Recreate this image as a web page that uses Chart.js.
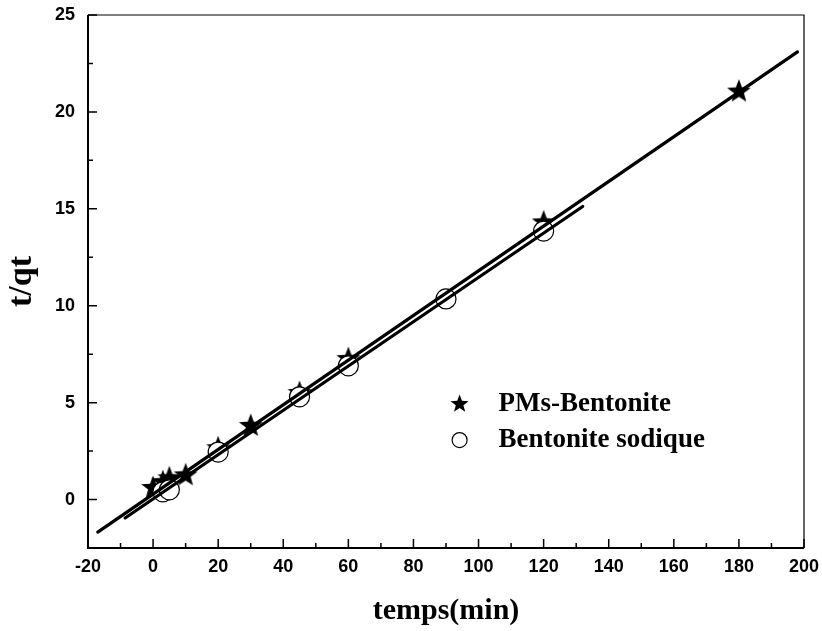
<!DOCTYPE html>
<html>
<head>
<meta charset="utf-8">
<script src="https://cdn.jsdelivr.net/npm/chart.js@4.4.1/dist/chart.umd.min.js"></script>
<style>
  html, body { margin: 0; padding: 0; background: #ffffff; }
  #wrap { width: 822px; height: 631px; }
</style>
</head>
<body>
<div id="wrap"><canvas id="chart" width="822" height="631"></canvas></div>
<script>
// valeurs
const pmsTemps = [0, 3, 5, 10, 20, 30, 45, 60, 120, 180];
const pmsTq    = [0.65, 0.95, 1.15, 1.3, 2.7, 3.85, 5.55, 7.3, 14.35, 21.1];
const sodTemps = [3, 5, 20, 45, 60, 90, 120];
const sodTq    = [0.4, 0.5, 2.45, 5.3, 6.9, 10.35, 13.85];
// droites de régression (extrémités lues)
const pmsFitX = [-17, 198];
const pmsFitY = [-1.68, 23.1];
const sodFitX = [-8.6, 132];
const sodFitY = [-0.95, 15.12];
// graduations
const xTicks = [-20, 0, 20, 40, 60, 80, 100, 120, 140, 160, 180, 200];
const yTicks = [0, 5, 10, 15, 20, 25];

function pts(xs, ys) {
    return xs.map((x, i) => ({ x: x, y: ys[i] }));
}

// étoile pleine à cinq branches
function starPath(ctx, cx, cy, rOut, rIn) {
    ctx.beginPath();
    for (let i = 0; i < 10; i++) {
        const r = i % 2 === 0 ? rOut : rIn;
        const a = -Math.PI / 2 + i * Math.PI / 5;
        const px = cx + r * Math.cos(a);
        const py = cy + r * Math.sin(a);
        if (i === 0) ctx.moveTo(px, py); else ctx.lineTo(px, py);
    }
    ctx.closePath();
}
const starImg = document.createElement('canvas');
starImg.width = 26; starImg.height = 26;
(function() {
    const c = starImg.getContext('2d');
    c.fillStyle = '#000';
    starPath(c, 13, 14, 12.5, 5.2);
    c.fill();
})();

// cadre + graduations vers l'intérieur
const cadre = {
    id: 'cadre',
    afterDatasetsDraw(chart) {
        const ctx = chart.ctx;
        const a = chart.chartArea;
        const xs = chart.scales.x, ys = chart.scales.y;
        ctx.save();
        ctx.strokeStyle = '#000';
        ctx.lineWidth = 1.2;
        ctx.beginPath();
        ctx.moveTo(a.left, a.top); ctx.lineTo(a.right, a.top); ctx.lineTo(a.right, a.bottom);
        ctx.stroke();
        ctx.lineWidth = 2;
        ctx.beginPath();
        ctx.moveTo(a.left, a.top); ctx.lineTo(a.left, a.bottom); ctx.lineTo(a.right, a.bottom);
        ctx.stroke();
        ctx.lineWidth = 1.5;
        ctx.beginPath();
        for (let i = 0; i < xTicks.length; i++) {
            let px = xs.getPixelForValue(xTicks[i]);
            ctx.moveTo(px, a.bottom); ctx.lineTo(px, a.bottom - 9);
            if (i < xTicks.length - 1) {
                px = xs.getPixelForValue((xTicks[i] + xTicks[i + 1]) / 2);
                ctx.moveTo(px, a.bottom); ctx.lineTo(px, a.bottom - 5);
            }
        }
        const yAll = [-2.5].concat(yTicks);
        for (let i = 0; i < yAll.length; i++) {
            let py = ys.getPixelForValue(yAll[i]);
            if (yAll[i] > -2.5) { ctx.moveTo(a.left, py); ctx.lineTo(a.left + 9, py); }
            if (i < yAll.length - 1) {
                py = ys.getPixelForValue((yAll[i] + yAll[i + 1]) / 2);
                if (i > 0) { ctx.moveTo(a.left, py); ctx.lineTo(a.left + 5, py); }
            }
        }
        ctx.stroke();

        // légende dans le graphique
        const lx = a.left + (a.right - a.left) * 0.519;
        const ly1 = a.top + (a.bottom - a.top) * 0.73;
        const ly2 = ly1 + 36;
        ctx.fillStyle = '#000';
        starPath(ctx, lx, ly1, 9.5, 4);
        ctx.fill();
        ctx.beginPath();
        ctx.lineWidth = 1.2;
        ctx.arc(lx, ly2, 7.5, 0, Math.PI * 2);
        ctx.stroke();
        ctx.font = 'bold 27px "Liberation Serif", "Times New Roman", serif';
        ctx.textBaseline = 'middle';
        ctx.textAlign = 'left';
        ctx.fillText('PMs-Bentonite', lx + 39, ly1);
        ctx.fillText('Bentonite sodique', lx + 39, ly2);
        ctx.restore();
    }
};

const tickFont = { family: '"Liberation Sans", Arial, sans-serif', size: 18, weight: 'bold' };
const titleFont = { family: '"Liberation Serif", "Times New Roman", serif', size: 30, weight: 'bold' };

new Chart(document.getElementById('chart'), {
    type: 'scatter',
    data: {
        datasets: [
            {
                label: 'PMs-Bentonite',
                data: pts(pmsTemps, pmsTq),
                pointStyle: starImg,
                order: 3
            },
            {
                label: 'Bentonite sodique',
                data: pts(sodTemps, sodTq),
                pointStyle: 'circle',
                pointRadius: 10,
                backgroundColor: '#ffffff',
                borderColor: '#000000',
                borderWidth: 1.2,
                order: 2
            },
            {
                type: 'line',
                data: pts(pmsFitX, pmsFitY),
                borderColor: '#000000',
                borderWidth: 3.2,
                borderCapStyle: 'round',
                pointRadius: 0,
                order: 1
            },
            {
                type: 'line',
                data: pts(sodFitX, sodFitY),
                borderColor: '#000000',
                borderWidth: 3.2,
                borderCapStyle: 'round',
                pointRadius: 0,
                order: 1
            }
        ]
    },
    options: {
        responsive: false,
        animation: false,
        layout: { padding: { top: 15, right: 18, left: 0, bottom: 0 } },
        plugins: {
            legend: { display: false },
            tooltip: { enabled: false }
        },
        scales: {
            x: {
                type: 'linear',
                min: -20,
                max: 200,
                grid: { display: false, drawTicks: false },
                border: { display: false },
                afterBuildTicks: s => { s.ticks = xTicks.map(v => ({ value: v })); },
                afterFit: s => { s.height = 83; s.paddingLeft = 0; s.paddingRight = 0; },
                ticks: { color: '#000', font: tickFont, padding: 8, maxRotation: 0 },
                title: { display: true, text: 'temps(min)', color: '#000', font: titleFont, padding: { top: 0, bottom: 2 } }
            },
            y: {
                type: 'linear',
                min: -2.5,
                max: 25,
                grid: { display: false, drawTicks: false },
                border: { display: false },
                afterBuildTicks: s => { s.ticks = yTicks.map(v => ({ value: v })); },
                afterFit: s => { s.width = 88; s.paddingTop = 0; s.paddingBottom = 0; },
                ticks: { color: '#000', font: tickFont, padding: 13 },
                title: { display: true, text: 't/qt', color: '#000', font: Object.assign({}, titleFont, { size: 34 }), padding: { top: 2, bottom: 0 } }
            }
        }
    },
    plugins: [cadre]
});
</script>
</body>
</html>
